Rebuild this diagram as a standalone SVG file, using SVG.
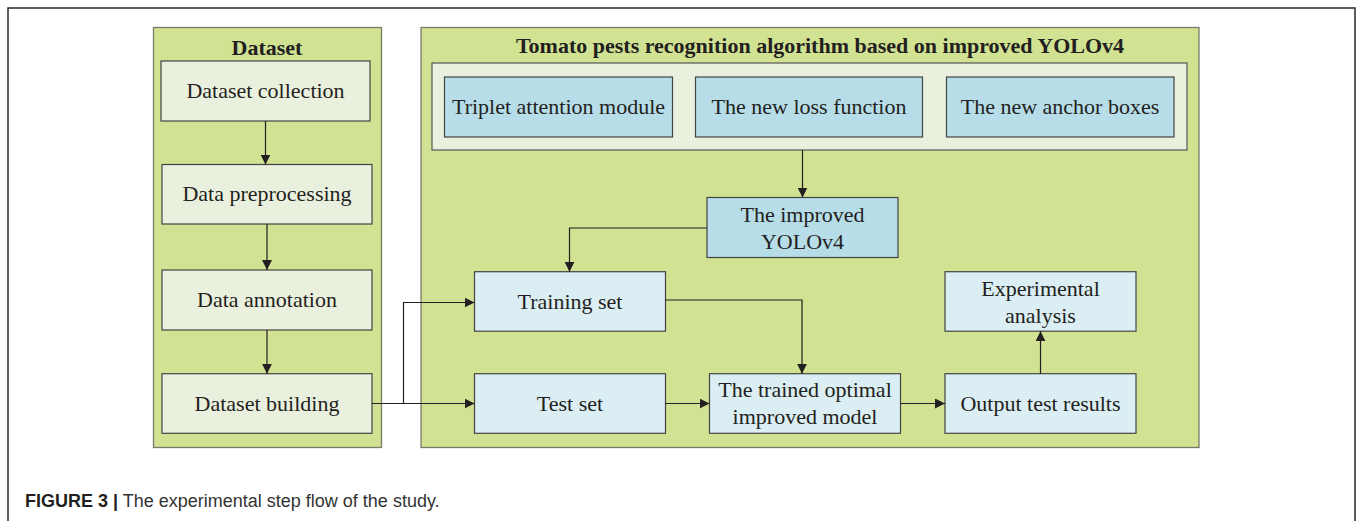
<svg xmlns="http://www.w3.org/2000/svg" width="1358" height="521" viewBox="0 0 1358 521">
  <defs>
    <marker id="arrow" viewBox="0 0 10 10" refX="10" refY="5" markerWidth="10" markerHeight="10" markerUnits="userSpaceOnUse" orient="auto">
      <path d="M0,0 L10,5 L0,10 Z" fill="#231f20"/>
    </marker>
    <style>
      .panel { fill: #d1e293; stroke: #7a7a6a; stroke-width: 1.3; }
      .inner { fill: #eaf0de; stroke: #555; stroke-width: 1.2; }
      .step { fill: #eaf0de; stroke: #444; stroke-width: 1.2; }
      .mod { fill: #b6dde8; stroke: #444; stroke-width: 1.2; }
      .proc { fill: #dbeef3; stroke: #444; stroke-width: 1.2; }
      .lbl { font-family: "Liberation Serif", "Times New Roman", serif; font-size: 22px; fill: #231f20; text-anchor: middle; }
      .ttl { font-family: "Liberation Serif", "Times New Roman", serif; font-size: 22px; font-weight: bold; fill: #231f20; text-anchor: middle; }
      .conn { fill: none; stroke: #231f20; stroke-width: 1.2; }
      .cap { font-family: "Liberation Sans", Arial, sans-serif; font-size: 18px; fill: #333; }
    </style>
  </defs>

  <rect width="1358" height="521" fill="#ffffff"/>
  <!-- figure frame (open at the bottom) -->
  <path d="M8,521 V8 H1355 V521" fill="none" stroke="#2a2a2a" stroke-width="1.5"/>

  <!-- Dataset panel -->
  <g id="panel-dataset">
    <rect class="panel" x="153.5" y="27.5" width="228" height="420"/>
    <text class="ttl" x="267" y="55">Dataset</text>
  </g>
  <g id="dataset-collection">
    <rect class="step" x="161" y="61" width="209" height="60"/>
    <text class="lbl" x="265.5" y="98">Dataset collection</text>
  </g>
  <g id="data-preprocessing">
    <rect class="step" x="162" y="164.5" width="210" height="59.5"/>
    <text class="lbl" x="267" y="201">Data preprocessing</text>
  </g>
  <g id="data-annotation">
    <rect class="step" x="162" y="270" width="210" height="60"/>
    <text class="lbl" x="267" y="307">Data annotation</text>
  </g>
  <g id="dataset-building">
    <rect class="step" x="162" y="373.7" width="210" height="59.6"/>
    <text class="lbl" x="267" y="411">Dataset building</text>
  </g>

  <!-- Algorithm panel -->
  <g id="panel-algorithm">
    <rect class="panel" x="421" y="27.5" width="778" height="420"/>
    <text class="ttl" x="820" y="53">Tomato pests recognition algorithm based on improved YOLOv4</text>
  </g>
  <g id="improvements">
    <rect class="inner" x="432" y="63" width="755" height="87"/>
  </g>
  <g id="triplet-attention">
    <rect class="mod" x="444.5" y="77" width="228" height="60"/>
    <text class="lbl" x="558.5" y="114">Triplet attention module</text>
  </g>
  <g id="new-loss">
    <rect class="mod" x="695.5" y="77" width="227" height="60"/>
    <text class="lbl" x="809" y="114">The new loss function</text>
  </g>
  <g id="new-anchors">
    <rect class="mod" x="946.5" y="77" width="227.5" height="60"/>
    <text class="lbl" x="1060" y="114">The new anchor boxes</text>
  </g>
  <g id="improved-yolov4">
    <rect class="mod" x="707" y="197.5" width="191" height="60"/>
    <text class="lbl" x="802.5" y="222">The improved</text>
    <text class="lbl" x="802.5" y="249">YOLOv4</text>
  </g>
  <g id="training-set">
    <rect class="proc" x="474.5" y="271.7" width="191" height="59.5"/>
    <text class="lbl" x="570" y="309">Training set</text>
  </g>
  <g id="test-set">
    <rect class="proc" x="474.5" y="373.7" width="191" height="59.6"/>
    <text class="lbl" x="570" y="411">Test set</text>
  </g>
  <g id="trained-model">
    <rect class="proc" x="709.5" y="373.7" width="191" height="59.6"/>
    <text class="lbl" x="805" y="397">The trained optimal</text>
    <text class="lbl" x="805" y="424">improved model</text>
  </g>
  <g id="experimental-analysis">
    <rect class="proc" x="945" y="271.7" width="191" height="59.5"/>
    <text class="lbl" x="1040.5" y="296">Experimental</text>
    <text class="lbl" x="1040.5" y="323">analysis</text>
  </g>
  <g id="output-results">
    <rect class="proc" x="945" y="373.7" width="191" height="59.6"/>
    <text class="lbl" x="1040.5" y="411">Output test results</text>
  </g>

  <!-- connectors -->
  <g id="connectors">
    <path class="conn" d="M265.5,121 V164.5" marker-end="url(#arrow)"/>
    <path class="conn" d="M267,224 V270" marker-end="url(#arrow)"/>
    <path class="conn" d="M267,330 V373.7" marker-end="url(#arrow)"/>
    <path class="conn" d="M802.5,150 V197.5" marker-end="url(#arrow)"/>
    <path class="conn" d="M707,228 H569.5 V271.7" marker-end="url(#arrow)"/>
    <path class="conn" d="M372,403.5 H474.5" marker-end="url(#arrow)"/>
    <path class="conn" d="M403.5,403.5 V302.5 H474.5" marker-end="url(#arrow)"/>
    <path class="conn" d="M665.5,300 H802 V373.7" marker-end="url(#arrow)"/>
    <path class="conn" d="M665.5,403.5 H709.5" marker-end="url(#arrow)"/>
    <path class="conn" d="M900.5,403.5 H945" marker-end="url(#arrow)"/>
    <path class="conn" d="M1040.5,373.7 V331.2" marker-end="url(#arrow)"/>
  </g>

  <!-- caption -->
  <text class="cap" x="25" y="507"><tspan font-weight="bold" fill="#231f20">FIGURE 3 |</tspan> The experimental step flow of the study.</text>
</svg>
